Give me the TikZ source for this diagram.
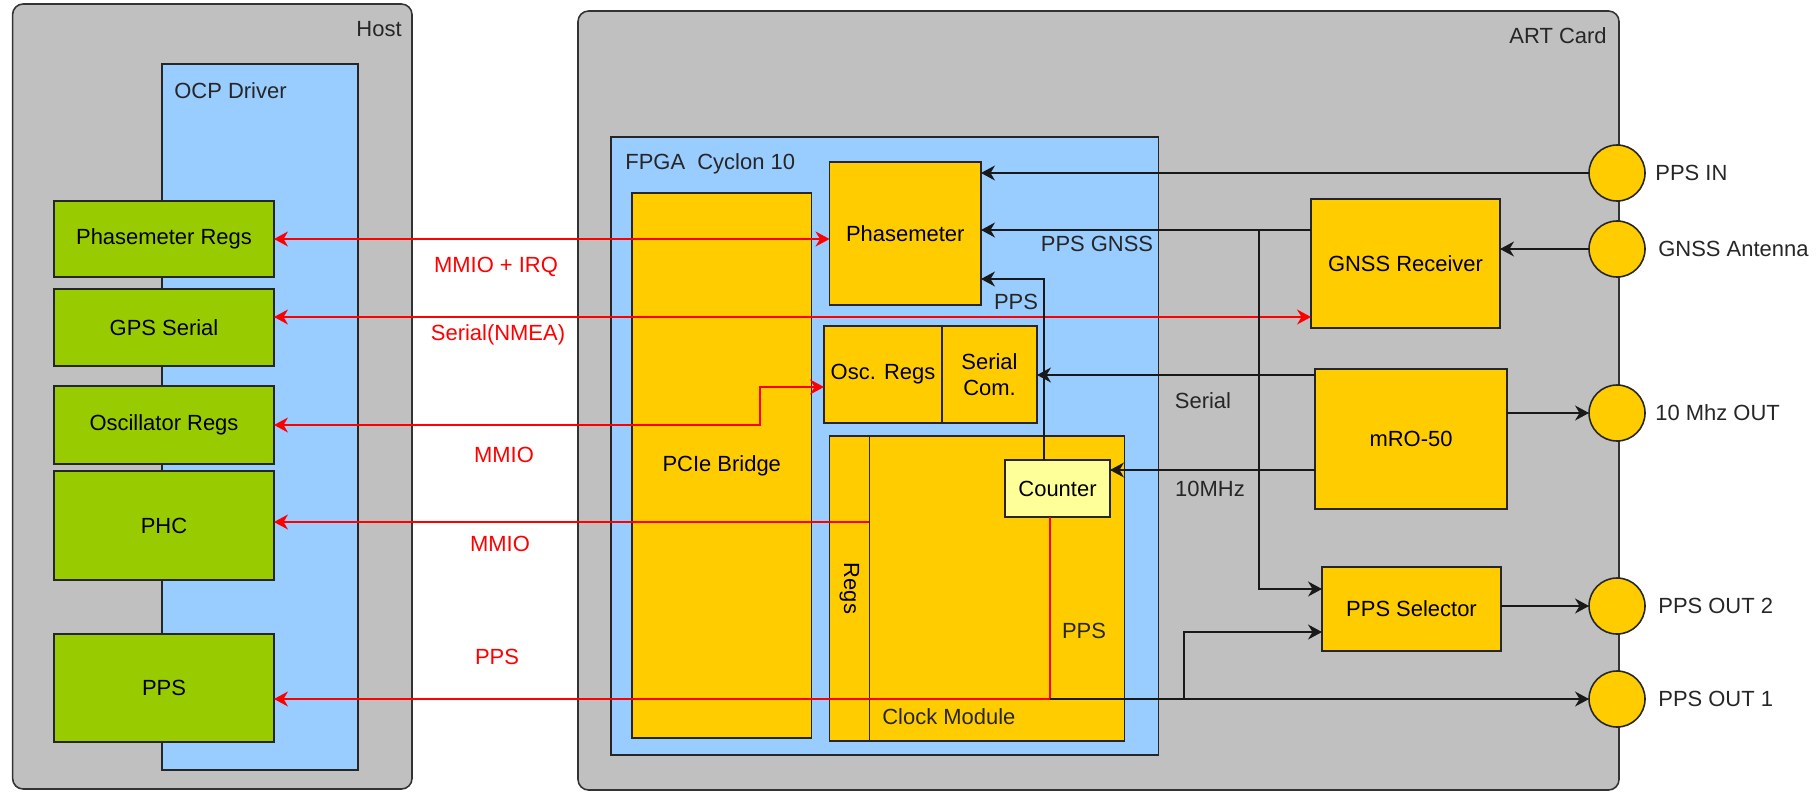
\documentclass[tikz,border=0pt]{standalone}
\usepackage{fontspec}
\setmainfont{Liberation Sans}
\definecolor{cardgray}{RGB}{192,192,192}
\definecolor{drvblue}{RGB}{153,204,255}
\definecolor{hostgreen}{RGB}{153,204,0}
\definecolor{blockorange}{RGB}{255,204,0}
\definecolor{cntyellow}{RGB}{255,255,153}
\definecolor{sigred}{RGB}{255,0,0}
\usetikzlibrary{arrows.meta,positioning,calc}
\tikzset{
  sz/.style 2 args={minimum width=#1*0.02cm,minimum height=#2*0.02cm},
  board/.style={rectangle,rounded corners=6pt,draw=black!80,line width=0.9pt,
                fill=cardgray,inner sep=0pt,outer sep=0pt},
  panel/.style={rectangle,draw=black!85,line width=0.9pt,fill=drvblue,
                inner sep=0pt,outer sep=0pt},
  hostblk/.style={rectangle,draw=black!85,line width=0.9pt,fill=hostgreen,
                  inner sep=0pt,outer sep=0pt,align=center},
  blk/.style={rectangle,draw=black!85,line width=0.9pt,fill=blockorange,
              inner sep=0pt,outer sep=0pt,align=center},
  port/.style={circle,draw=black!85,line width=0.9pt,fill=blockorange,
               minimum size=56*0.02cm,inner sep=0pt,outer sep=0pt},
  txt/.style={inner sep=0pt,text=black!85},
}

\begin{document}
\begin{tikzpicture}[
      x=0.02cm,y=-0.02cm,
      font=\fontsize{12.5}{15}\selectfont,
      arr/.style={-{Stealth[length=0.28cm,width=0.3cm,inset=0.09cm]},line width=0.6pt,black!90},
      rarr/.style={-{Stealth[length=0.28cm,width=0.3cm,inset=0.09cm]},line width=0.6pt,sigred},
      rboth/.style={{Stealth[length=0.28cm,width=0.3cm,inset=0.09cm]}-{Stealth[length=0.28cm,width=0.3cm,inset=0.09cm]},line width=0.6pt,sigred},
      rline/.style={line width=0.6pt,sigred},
      rlbl/.style={inner sep=0pt,text=sigred},
    ]
    \useasboundingbox (0,0) rectangle (1817,791);

    % host side
    \node[board,sz={399.4}{785}] (host) at (212.3,396.5) {};
    \node[txt,anchor=east] (hostlbl) at (402,29) {Host};
    \node[panel,sz={196}{706}] (drv) at (260,417) {};
    \node[txt,anchor=west] (drvlbl) at (174,91) {OCP Driver};

    \node[hostblk,sz={220}{76}]  (phregs)  at (164,239)   {Phasemeter Regs};
    \node[hostblk,sz={220}{77}]  (gpsser)  at (164,327.5) {GPS Serial};
    \node[hostblk,sz={220}{78}]  (oscregs) at (164,425)   {Oscillator Regs};
    \node[hostblk,sz={220}{109}] (phc)     at (164,525.5) {PHC};
    \node[hostblk,sz={220}{108}] (hpps)    at (164,688)   {PPS};

    % card side
    \node[board,sz={1041}{779}] (card) at (1098.5,400.5) {};
    \node[txt,anchor=east] (cardlbl) at (1607,36) {ART Card};
    \node[panel,sz={547.6}{618}] (fpga) at (884.8,446) {};
    \node[txt,anchor=west] (fpgalbl) at (625,164) {FPGA~~Cyclon 10};

    \node[blk,sz={179.5}{545}] (pcie)   at (721.75,465.5) {PCIe Bridge};
    \node[blk,sz={151.5}{143}] (phase)  at (905.25,233.5) {Phasemeter};
    \node[blk,sz={118}{97}]    (oscr)   at (883,374.5)    {Osc. Regs};
    \node[blk,sz={95}{97}]     (sercom) at (989.5,374.5)  {Serial\\Com.};
    \node[blk,sz={295}{305}]   (clk)    at (977,588.5)    {};
    \node[blk,sz={39.8}{305}]  (regs)   at (849.4,588.5)  {\rotatebox{-90}{Regs}};
    \node[txt,anchor=west] (clklbl) at (882,717) {Clock Module};
    \node[txt] (clkpps) at (1084,631) {PPS};
    \node[blk,fill=cntyellow,sz={105}{57}] (counter) at (1057.5,488.5) {Counter};

    \node[blk,sz={189}{129}] (gnss) at (1405.5,263.5) {GNSS Receiver};
    \node[blk,sz={192}{140}] (mro)  at (1411,439)     {mRO-50};
    \node[blk,sz={179}{84}]  (sel)  at (1411.5,609)   {PPS Selector};

    \node[port] (ppsin)  at (1617,173) {};
    \node[port] (ant)    at (1617,249) {};
    \node[port] (tenout) at (1617,413) {};
    \node[port] (out2)   at (1617,606) {};
    \node[port] (out1)   at (1617,699) {};
    \node[txt,anchor=west] (ppsinlbl)  at (1655,173) {PPS IN};
    \node[txt,anchor=west] (antlbl)    at (1658,249) {GNSS Antenna};
    \node[txt,anchor=west] (tenoutlbl) at (1655,413) {10 Mhz OUT};
    \node[txt,anchor=west] (out2lbl)   at (1658,606) {PPS OUT 2};
    \node[txt,anchor=west] (out1lbl)   at (1658,699) {PPS OUT 1};

    % bend points
    \coordinate (ynmea) at (0,317);
    \coordinate (oscbend) at (760,387);
    \coordinate (yphc) at (0,522);
    \coordinate (ppsj) at (1050,699);
    \coordinate (selj) at (1184,699);
    \coordinate (selb) at (1184,632);
    \coordinate (gnsso) at (1259,230);
    \coordinate (selt) at (1259,589);
    \coordinate (ppsup) at (1044,279);
    \coordinate (yser) at (0,375);
    \coordinate (yclk) at (0,470);

    % host links
    \draw[rboth] (phregs.east) -- (phase.west |- phregs.east);
    \draw[rboth] (gpsser.east |- ynmea) -- (gnss.west |- ynmea);
    \draw[rboth] (oscregs.east) -| (oscbend) -- (oscr.west |- oscbend);
    \draw[rarr] (regs.east |- yphc) -- (phc.east |- yphc);
    \draw[rline] (counter.south -| ppsj) -- (ppsj);
    \draw[rarr] (ppsj) -- (hpps.east |- ppsj);

    \node[rlbl] (l1) at (496,267) {MMIO + IRQ};
    \node[rlbl] (l2) at (498,335) {Serial(NMEA)};
    \node[rlbl] (l3) at (504,455) {MMIO};
    \node[rlbl] (l4) at (500,544) {MMIO};
    \node[rlbl] (l5) at (497,657) {PPS};

    % card links
    \draw[arr] (ppsin.west) -- (phase.east |- ppsin.west);
    \draw[arr] (gnss.west |- gnsso) -- (phase.east |- gnsso);
    \draw[arr] (gnsso) -- (selt) -- (sel.west |- selt);
    \draw[arr] (counter.north -| ppsup) -- (ppsup) -- (phase.east |- ppsup);
    \draw[arr] (ant.west) -- (gnss.east |- ant.west);
    \draw[arr] (mro.west |- yser) -- (sercom.east |- yser);
    \draw[arr] (mro.west |- yclk) -- (counter.east |- yclk);
    \draw[arr] (mro.east |- tenout) -- (tenout.west);
    \draw[arr] (sel.east |- out2) -- (out2.west);
    \draw[arr] (ppsj) -- (out1.west);
    \draw[arr] (selj) -- (selb) -- (sel.west |- selb);

    \node[txt] (gnsslbl) at (1097,244) {PPS GNSS};
    \node[txt] (ppslbl)  at (1016,302) {PPS};
    \node[txt] (serlbl)  at (1203,401) {Serial};
    \node[txt] (clklbl2) at (1210,489) {10MHz};

  \end{tikzpicture}
\end{document}
